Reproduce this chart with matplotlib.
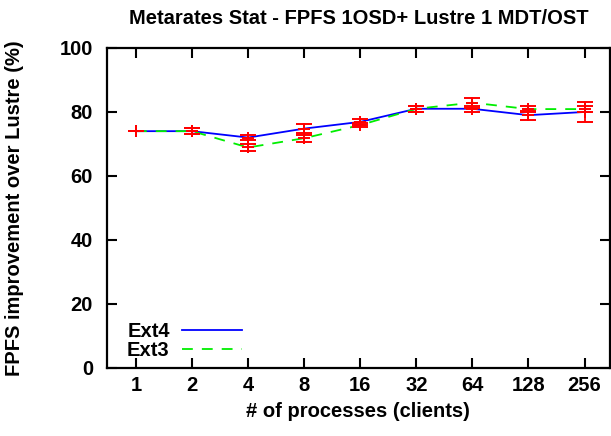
import matplotlib
matplotlib.use("Agg")
import matplotlib.pyplot as plt
from matplotlib.lines import Line2D

plt.rcParams["font.family"] = ["Liberation Sans", "DejaVu Sans"]
plt.rcParams["font.weight"] = "bold"

clients = ["1", "2", "4", "8", "16", "32", "64", "128", "256"]
ext4 = [74.0, 74.0, 72.0, 74.8, 76.9, 81.0, 81.0, 79.0, 80.0]
ext4_err = [0.0, 0.9, 0.8, 1.3, 1.0, 1.0, 1.0, 1.4, 3.0]
ext3 = [74.0, 74.0, 68.9, 71.8, 75.9, 81.0, 82.9, 80.9, 80.9]
ext3_err = [0.0, 0.9, 1.0, 1.1, 0.5, 1.0, 1.6, 1.0, 1.0]

x = list(range(len(clients)))
FS = 14.5
GREEN = "#00ee00"

fig = plt.figure(figsize=(6.11, 4.36), dpi=100)
ax = fig.add_axes([0.175, 0.156, 0.823, 0.734])

ax.plot(x, ext4, color="#0000ff", lw=1.3, zorder=2)
ax.plot(x, ext3, color=GREEN, lw=1.3, ls=(0, (6, 5)), zorder=2)
for vals, errs in ((ext4, ext4_err), (ext3, ext3_err)):
    ax.errorbar(x, vals, yerr=errs, fmt="+", color="#ff0000", ms=8, mew=1.4,
                elinewidth=1.3, capsize=6, capthick=1.3, zorder=3)

ax.set_xlim(-0.517, 8.45)
ax.set_ylim(0, 100)
ax.set_xticks(x)
ax.set_xticklabels(clients)
ax.set_yticks([0, 20, 40, 60, 80, 100])
ax.tick_params(axis="x", pad=6)
ax.tick_params(axis="y", pad=10)
ax.tick_params(direction="in", length=7, width=1.5, top=True, right=True,
               labelsize=FS)
for s in ax.spines.values():
    s.set_linewidth(1.6)

ax.set_title("Metarates Stat - FPFS 1OSD+ Lustre 1 MDT/OST",
             fontsize=FS, fontweight="bold", pad=17)
ax.set_xlabel("# of processes (clients)", fontsize=FS, fontweight="bold", labelpad=5)
ax.set_ylabel("FPFS improvement over Lustre (%)", fontsize=FS, fontweight="bold", labelpad=26)

handles = [Line2D([], [], color="#0000ff", lw=1.3),
           Line2D([], [], color=GREEN, lw=1.3, ls=(0, (6, 5)))]
ax.legend(handles, ["Ext4", "Ext3"], loc="lower left", frameon=False,
          markerfirst=False, handlelength=3.0, fontsize=FS,
          borderaxespad=0, borderpad=0, labelspacing=0.0, handletextpad=0.6,
          bbox_to_anchor=(0.04, 0.025))

fig.savefig("out.png", dpi=100)
